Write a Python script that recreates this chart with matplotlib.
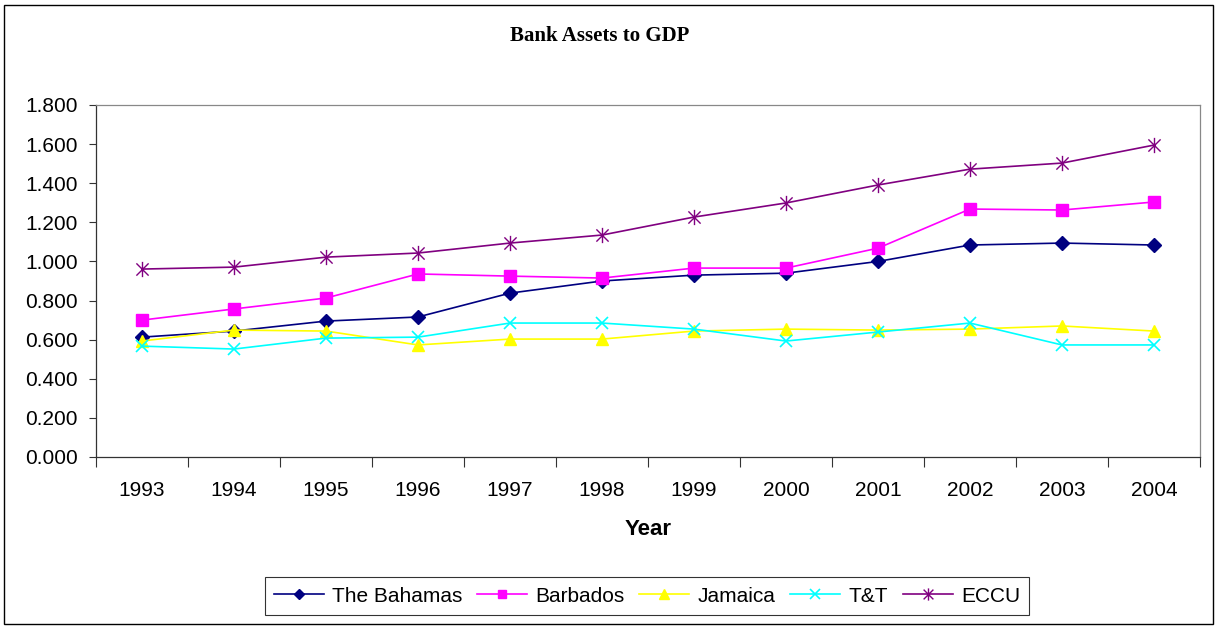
import matplotlib
matplotlib.use("Agg")
import matplotlib.pyplot as plt
import numpy as np
from matplotlib.patches import Rectangle
from matplotlib.path import Path

years = ["1993", "1994", "1995", "1996", "1997", "1998", "1999", "2000", "2001", "2002", "2003", "2004"]
bahamas = [0.613, 0.644, 0.695, 0.716, 0.838, 0.900, 0.930, 0.940, 1.000, 1.084, 1.094, 1.084]
barbados = [0.700, 0.757, 0.813, 0.936, 0.925, 0.915, 0.966, 0.966, 1.068, 1.268, 1.263, 1.304]
jamaica = [0.593, 0.649, 0.644, 0.573, 0.603, 0.603, 0.644, 0.654, 0.649, 0.654, 0.670, 0.644]
tt = [0.567, 0.552, 0.608, 0.613, 0.685, 0.685, 0.654, 0.593, 0.639, 0.685, 0.573, 0.573]
eccu = [0.961, 0.971, 1.022, 1.043, 1.094, 1.135, 1.227, 1.299, 1.391, 1.472, 1.503, 1.595]
series_names = ["The Bahamas", "Barbados", "Jamaica", "T&T", "ECCU"]
yticks = [0.0, 0.2, 0.4, 0.6, 0.8, 1.0, 1.2, 1.4, 1.6, 1.8]

plt.rcParams['font.family'] = ['Liberation Sans', 'DejaVu Sans']

# Excel-style star marker: an X with a vertical bar
star = Path([(-1, -1), (1, 1), (-1, 1), (1, -1), (0, -1.25), (0, 1.25)],
            [Path.MOVETO, Path.LINETO, Path.MOVETO, Path.LINETO, Path.MOVETO, Path.LINETO])

W, H = 1218, 629
fig = plt.figure(figsize=(W / 100, H / 100), dpi=100)
fig.patches.append(Rectangle((4 / W, 5 / H), (W - 9) / W, (H - 10) / H, transform=fig.transFigure,
                             fill=False, edgecolor='black', linewidth=1.0))

L, R, T, B = 96, 1200, 105, 457
ax = fig.add_axes([L / W, 1 - B / H, (R - L) / W, (B - T) / H])
x = np.arange(len(years))

styles = [
    dict(color='#000080', marker='D', markersize=7),
    dict(color='#FF00FF', marker='s', markersize=8),
    dict(color='#FFFF00', marker='^', markersize=9),
    dict(color='#00FFFF', marker='x', markersize=9, markeredgewidth=1.2),
    dict(color='#800080', marker=star, markersize=11, markeredgewidth=1.0),
]
data = [bahamas, barbados, jamaica, tt, eccu]
for name, vals, st in zip(series_names, data, styles):
    ax.plot(x, vals, linewidth=1.2, label=name, **st)

ax.set_xlim(-0.5, len(years) - 0.5)
ax.set_ylim(0, 1.8)
ax.set_yticks(yticks)
ax.set_yticklabels([f"{v:.3f}" for v in yticks], fontsize=15)
ax.set_xticks(np.arange(-0.5, len(years), 1.0))
ax.set_xticklabels([])
ax.set_xticks(x, minor=True)
ax.set_xticklabels(years, minor=True, fontsize=15)
ax.tick_params(axis='x', which='major', direction='out', length=7, width=0.8, color='#333333')
ax.tick_params(axis='x', which='minor', length=0, pad=17)
ax.tick_params(axis='y', direction='out', length=5, width=0.8, color='#333333', pad=8)
for s in ax.spines.values():
    s.set_linewidth(0.9)
    s.set_color('#333333')
ax.spines['top'].set_color('#888888')
ax.spines['right'].set_color('#888888')

ax.set_xlabel("Year", fontsize=16, fontweight='bold', labelpad=14)
fig.text(600 / W, 1 - 36 / H, "Bank Assets to GDP", ha='center', va='center',
         fontsize=15, fontweight='bold', family=['Liberation Serif', 'DejaVu Serif'])

leg = fig.legend(loc='center', bbox_to_anchor=(647 / W, 1 - 596 / H), ncol=5, frameon=True,
                 fancybox=False, edgecolor='black', fontsize=15, handlelength=2.4,
                 columnspacing=0.7, handletextpad=0.4, borderpad=0.45, borderaxespad=0,
                 markerscale=0.8)
leg.get_frame().set_linewidth(0.8)

fig.savefig("out.png", dpi=100)
